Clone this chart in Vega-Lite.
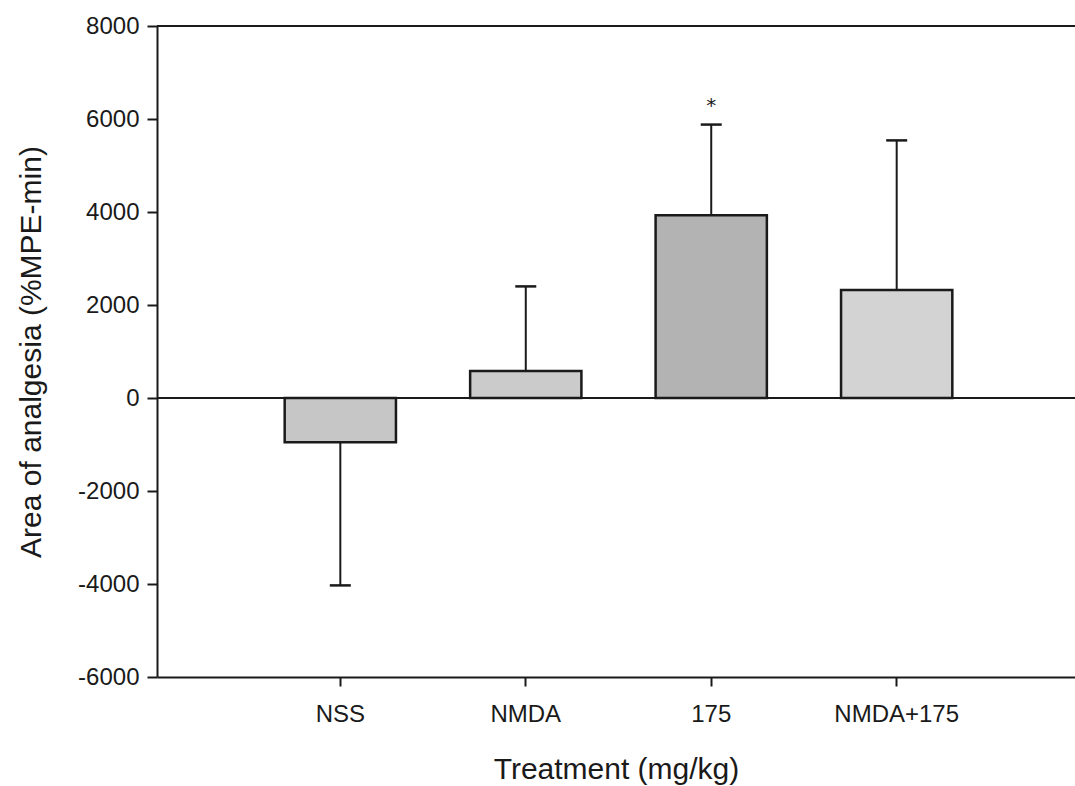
{
  "$schema": "https://vega.github.io/schema/vega-lite/v6.json",
  "autosize": {"type": "none"},
  "padding": {"left": 157, "top": 26, "right": 0, "bottom": 109},
  "width": 918,
  "height": 651,
  "background": "#ffffff",
  "config": {
    "view": {"stroke": null},
    "font": "Liberation Sans",
    "axis": {
      "grid": false,
      "domainColor": "#1a1a1a",
      "domainWidth": 2,
      "tickColor": "#1a1a1a",
      "tickWidth": 2,
      "labelColor": "#1a1a1a",
      "titleColor": "#1a1a1a",
      "labelFont": "Liberation Sans",
      "titleFont": "Liberation Sans",
      "titleFontWeight": "normal",
      "titleLimit": 1000
    }
  },
  "data": {
    "values": [
      {"treatment": "NSS", "mean": -950, "errEnd": -4030, "sig": ""},
      {"treatment": "NMDA", "mean": 580, "errEnd": 2400, "sig": ""},
      {"treatment": "175", "mean": 3930, "errEnd": 5880, "sig": "*"},
      {"treatment": "NMDA+175", "mean": 2320, "errEnd": 5540, "sig": ""}
    ]
  },
  "encoding": {
    "x": {
      "field": "treatment",
      "type": "nominal",
      "sort": null,
      "scale": {"type": "band", "paddingInner": 0.4, "paddingOuter": 0.675, "align": 0.51},
      "axis": {
        "title": "Treatment (mg/kg)",
        "labelAngle": 0,
        "labelFontSize": 24,
        "titleFontSize": 30,
        "tickSize": 9,
        "labelPadding": 16,
        "titlePadding": 28
      }
    }
  },
  "layer": [
    {
      "mark": {"type": "rule", "color": "#1a1a1a", "strokeWidth": 2},
      "encoding": {"y": {"datum": 8000, "type": "quantitative"}, "x": null}
    },
    {
      "mark": {"type": "bar", "stroke": "#1a1a1a", "strokeWidth": 2.5},
      "encoding": {
        "y": {
          "field": "mean",
          "type": "quantitative",
          "stack": null,
          "scale": {"domain": [-6000, 8000], "nice": false, "zero": false},
          "axis": {
            "title": "Area of analgesia (%MPE-min)",
            "values": [-6000, -4000, -2000, 0, 2000, 4000, 6000, 8000],
            "labelExpr": "datum.value + ''",
            "labelFontSize": 24,
            "titleFontSize": 30,
            "tickSize": 10,
            "labelPadding": 8,
            "titlePadding": 31
          }
        },
        "color": {
          "field": "treatment",
          "type": "nominal",
          "scale": {
            "domain": ["NSS", "NMDA", "175", "NMDA+175"],
            "range": ["#c6c6c6", "#cbcbcb", "#b3b3b3", "#d3d3d3"]
          },
          "legend": null
        }
      }
    },
    {
      "mark": {"type": "rule", "color": "#1a1a1a", "strokeWidth": 2},
      "encoding": {
        "y": {"field": "mean", "type": "quantitative"},
        "y2": {"field": "errEnd"}
      }
    },
    {
      "mark": {"type": "tick", "orient": "horizontal", "color": "#1a1a1a", "size": 21, "thickness": 2.5, "opacity": 1},
      "encoding": {
        "y": {"field": "errEnd", "type": "quantitative"}
      }
    },
    {
      "mark": {"type": "rule", "color": "#1a1a1a", "strokeWidth": 2},
      "encoding": {"y": {"datum": 0, "type": "quantitative"}, "x": null}
    },
    {
      "transform": [{"filter": "datum.sig != ''"}],
      "mark": {"type": "text", "fontSize": 20, "dy": -19, "baseline": "middle", "color": "#1a1a1a", "font": "DejaVu Sans"},
      "encoding": {
        "y": {"field": "errEnd", "type": "quantitative"},
        "text": {"field": "sig"}
      }
    }
  ]
}
